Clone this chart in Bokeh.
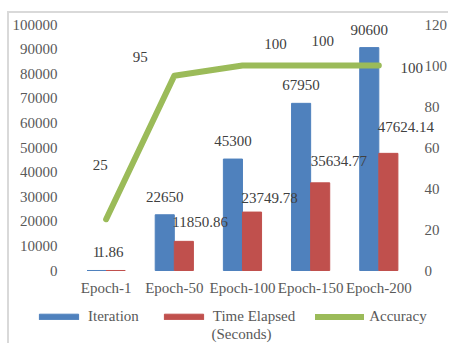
from bokeh.plotting import figure
from bokeh.models import (ColumnDataSource, Range1d, LinearAxis, FixedTicker,
                          BasicTickFormatter, Legend, LegendItem, Label)
from bokeh.transform import dodge
from bokeh.core.properties import value
from bokeh.embed import file_html
from bokeh.resources import INLINE

# ---- data ----
categories = ["Epoch-1", "Epoch-50", "Epoch-100", "Epoch-150", "Epoch-200"]
iteration = [1, 22650, 45300, 67950, 90600]
time_elapsed = [1.86, 11850.86, 23749.78, 35634.77, 47624.14]
accuracy = [25, 95, 100, 100, 100]
iteration_labels = ["1", "22650", "45300", "67950", "90600"]
time_labels = ["1.86", "11850.86", "23749.78", "35634.77", "47624.14"]
accuracy_labels = ["25", "95", "100", "100", "100"]
left_ticks = [0, 10000, 20000, 30000, 40000, 50000, 60000, 70000, 80000, 90000, 100000]
right_ticks = [0, 20, 40, 60, 80, 100, 120]

# ---- label nudges (pixels, styling only) ----
time_dx = [-9, -2, -1, 0, -1]
time_dy = [-18, -19, -14, -22, -26]
acc_dx = [-6, -34, 33, 12, 33]
acc_dy = [-54, -19, -22, -25, 2]

BLUE = "#4F81BD"
RED = "#C0504D"
GREEN = "#9BBB59"
FONT = "Liberation Serif"
TXT = "#595959"
DTXT = "#404040"

# ---- layout (pixels) ----
AXIS_PX = 246.0          # pixel height from 0 to axis maximum
ABOVE_PX = 11.0          # frame space above axis maximum
BELOW_PX = 75.0          # frame space below zero (axis labels + legend)
CAT_PX = 68.5            # width of one category
LEFT_PX = 76.0           # frame space left of first category centre
RIGHT_PX = 339.0         # frame space right of first category centre

lmax, rmax = left_ticks[-1], right_ticks[-1]
lpp, rpp = lmax / AXIS_PX, rmax / AXIS_PX

xpos = list(range(len(categories)))
src = ColumnDataSource(dict(
    x=xpos, it=iteration, tm=time_elapsed, acc=accuracy,
    itl=iteration_labels, tml=time_labels, accl=accuracy_labels,
    tdx=time_dx, tdy=time_dy, adx=acc_dx, ady=acc_dy,
))

p = figure(x_range=Range1d(-LEFT_PX / CAT_PX, RIGHT_PX / CAT_PX),
           y_range=Range1d(-BELOW_PX * lpp, lmax + ABOVE_PX * lpp),
           width=441, height=332, output_backend="svg", toolbar_location=None,
           min_border_left=21, min_border_right=5, min_border_top=0,
           min_border_bottom=0, margin=(11, 0, 0, 7))
p.styles = {"border-left": "2px solid #d9d9d9", "border-top": "2px solid #d9d9d9"}
p.extra_y_ranges = {"acc": Range1d(-BELOW_PX * rpp, rmax + ABOVE_PX * rpp)}
p.outline_line_color = None
p.xgrid.grid_line_color = None
p.ygrid.grid_line_color = None
p.background_fill_color = "white"
p.border_fill_color = "white"

b1 = p.vbar(x=dodge("x", -0.14), top="it", width=0.28,
            source=src, fill_color=BLUE, line_color=BLUE, line_width=1)
b2 = p.vbar(x=dodge("x", 0.14), top="tm", width=0.28,
            source=src, fill_color=RED, line_color=RED, line_width=1)
ln = p.line(x="x", y="acc", source=src, y_range_name="acc",
            line_color=GREEN, line_width=6, line_cap="round", line_join="round")

# data labels
p.text(x=dodge("x", -0.14), y="it", text="itl", source=src,
       text_align="center", text_baseline="middle", y_offset=-18,
       text_font=value(FONT), text_font_size="15px", text_color=DTXT)
p.text(x="x", y="tm", text="tml", source=src,
       text_align="left", text_baseline="middle", x_offset="tdx", y_offset="tdy",
       text_font=value(FONT), text_font_size="15px", text_color=DTXT)
p.text(x="x", y="acc", text="accl", source=src, y_range_name="acc",
       text_align="center", text_baseline="middle", x_offset="adx", y_offset="ady",
       text_font=value(FONT), text_font_size="15px", text_color=DTXT)


def style_axis(ax, standoff):
    ax.axis_line_color = None
    ax.major_tick_line_color = None
    ax.minor_tick_line_color = None
    ax.major_tick_out = 0
    ax.major_tick_in = 0
    ax.minor_tick_out = 0
    ax.minor_tick_in = 0
    ax.major_label_text_font = FONT
    ax.major_label_text_font_size = "15px"
    ax.major_label_text_color = TXT
    ax.major_label_standoff = standoff


style_axis(p.xaxis[0], -17)
p.xaxis.ticker = FixedTicker(ticks=xpos)
p.xaxis.major_label_overrides = {i: c for i, c in zip(xpos, categories)}
p.xaxis.fixed_location = -26.5 * lpp

style_axis(p.yaxis[0], -27)
p.yaxis.ticker = FixedTicker(ticks=left_ticks)
p.yaxis.formatter = BasicTickFormatter(use_scientific=False)

ra = LinearAxis(y_range_name="acc", ticker=FixedTicker(ticks=right_ticks))
style_axis(ra, -19)
p.add_layout(ra, "right")

legend = Legend(items=[LegendItem(label="Iteration", renderers=[b1]),
                       LegendItem(label="Time Elapsed", renderers=[b2]),
                       LegendItem(label="Accuracy", renderers=[ln])],
                orientation="horizontal", location=(4, 20),
                glyph_width=49, glyph_height=7, label_standoff=5, spacing=20,
                padding=0, margin=0, border_line_color=None,
                background_fill_alpha=0, label_height=15,
                label_text_font=FONT, label_text_font_size="15px",
                label_text_color=TXT)
p.add_layout(legend, "center")

p.add_layout(Label(x=181, y=12, x_units="screen", y_units="screen",
                   text="(Seconds)", text_font=FONT, text_font_size="15px",
                   text_color=TXT, text_baseline="middle", text_align="left"))

open("out.html", "w").write(file_html(p, INLINE))
